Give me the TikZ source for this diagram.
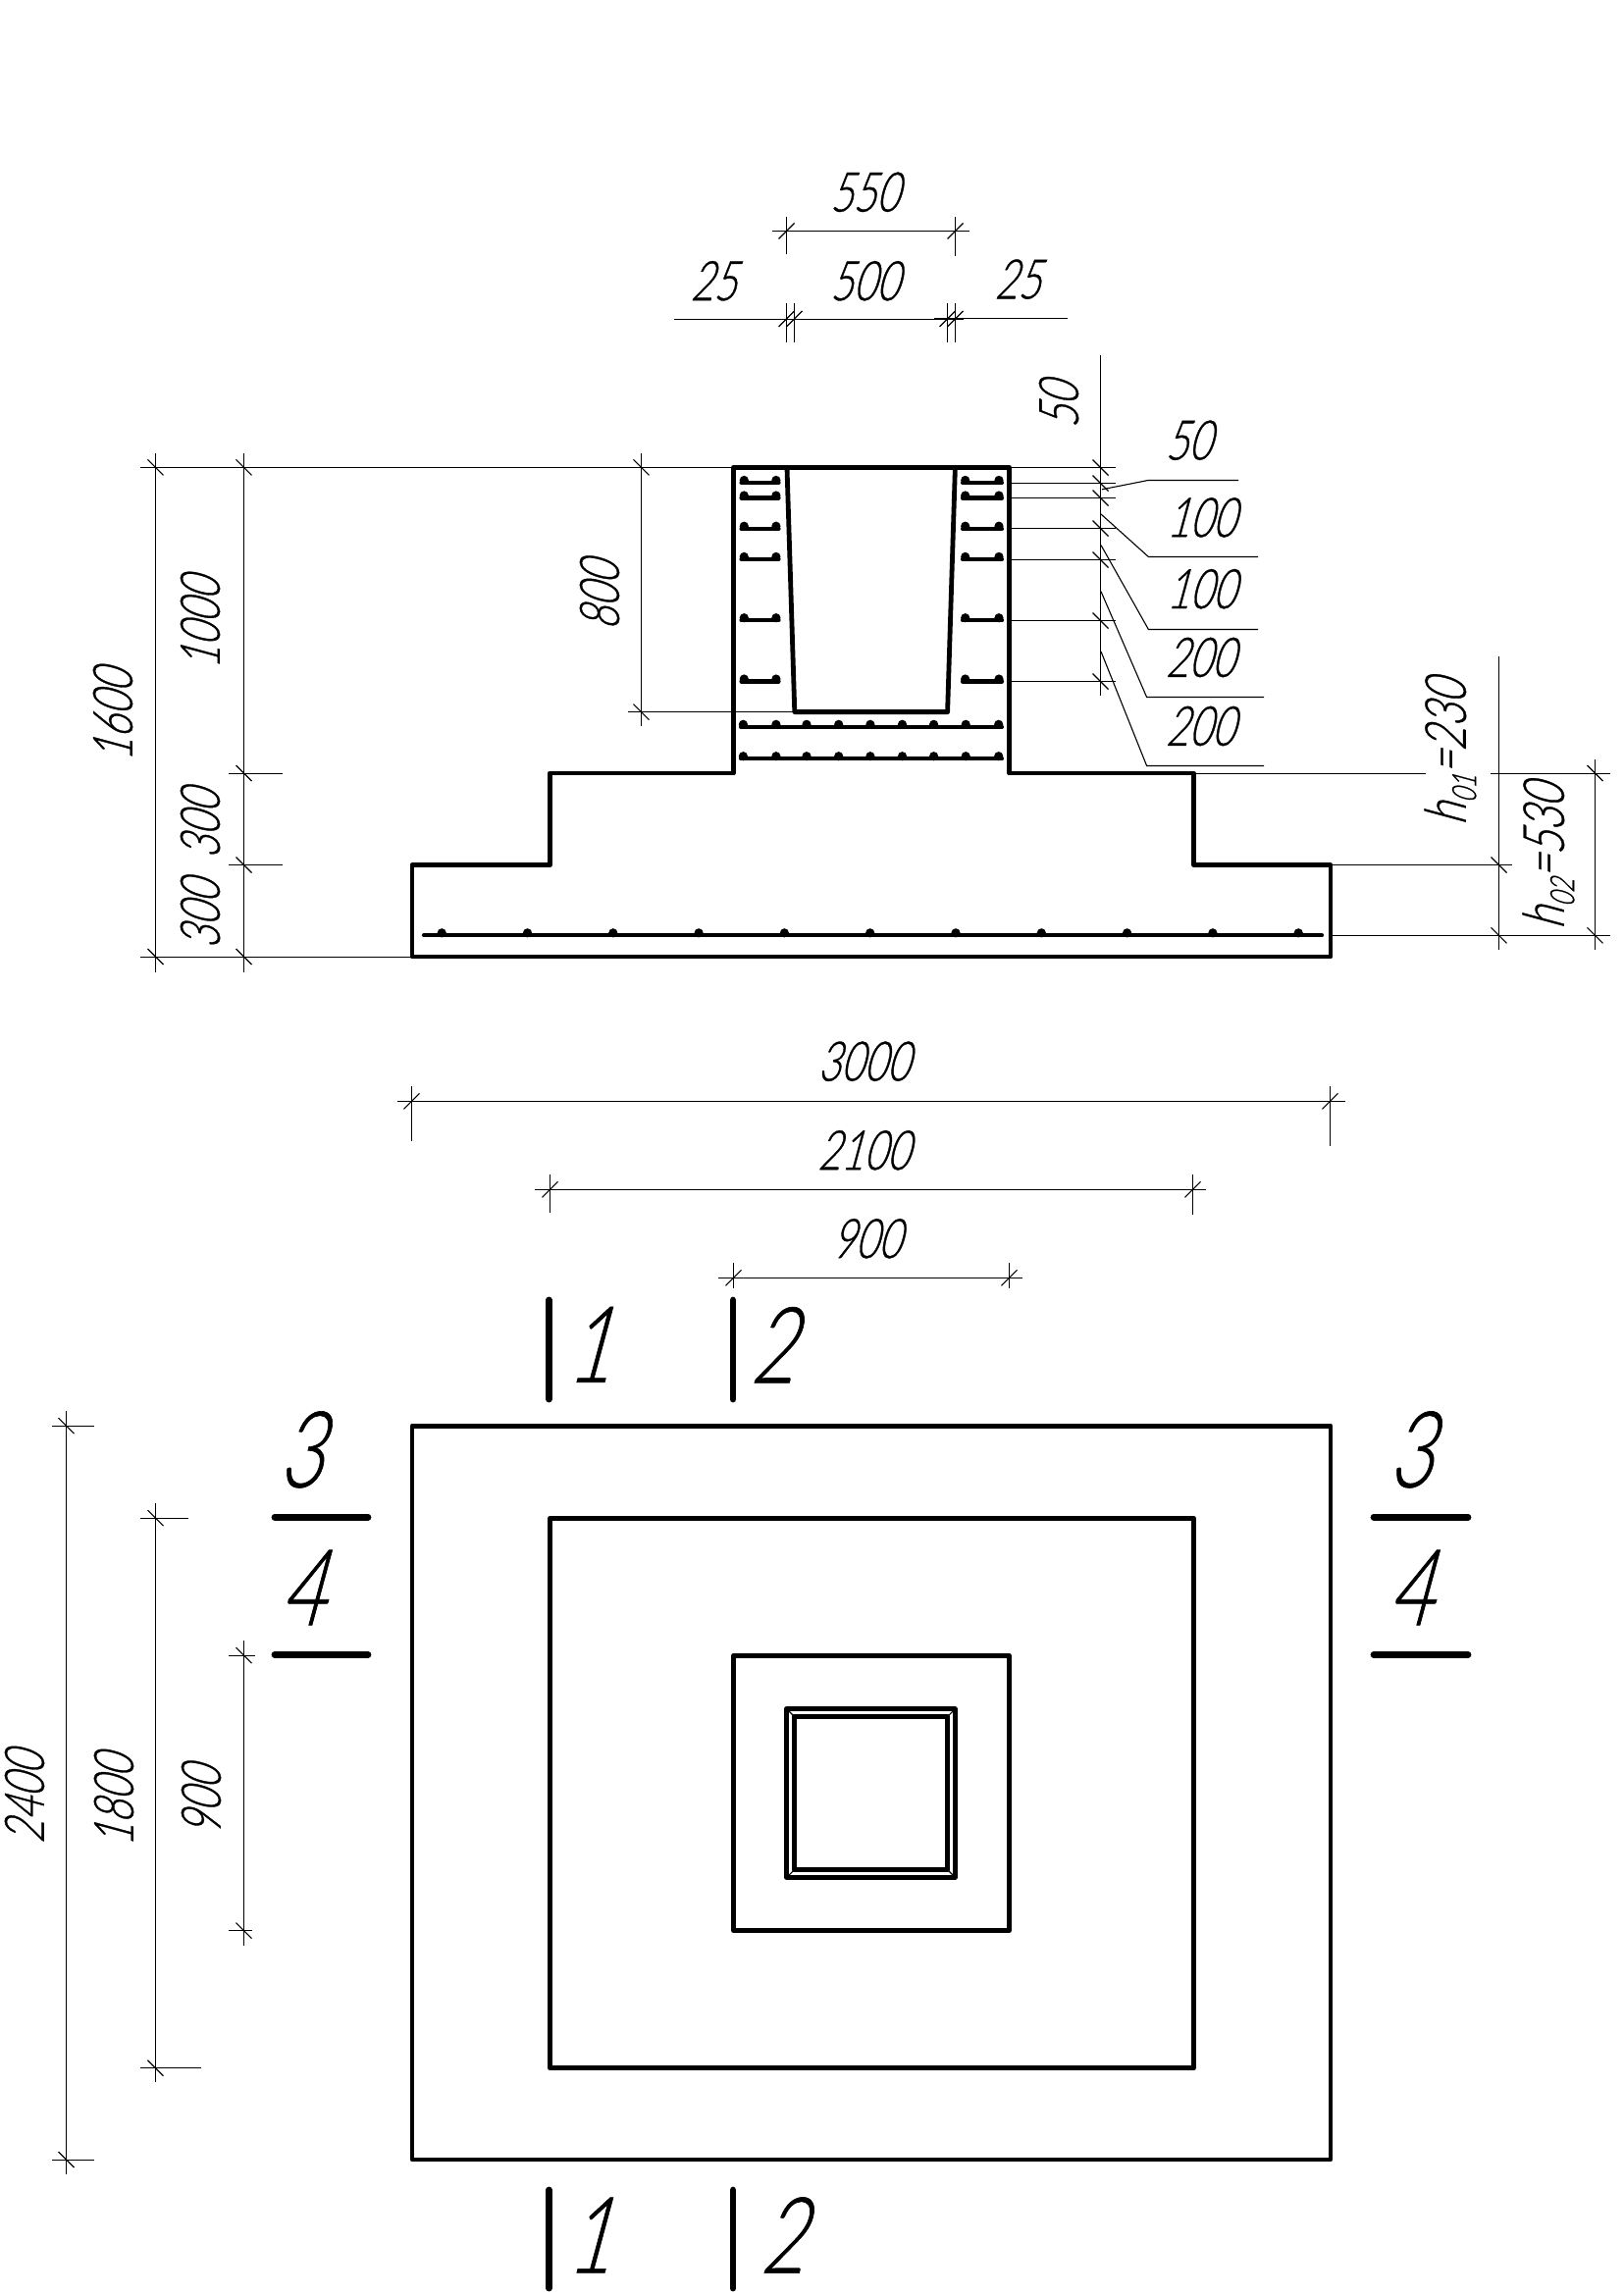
\documentclass[tikz,border=0pt]{standalone}
\usepackage{fontspec}
\newfontfamily\gost[FakeStretch=0.72,FakeSlant=0.27,FakeBold=0.6]{Lato Light}
\newcommand{\gostfont}[1]{\gost\fontsize{#1}{#1}\selectfont}
\tikzset{
  thinline/.style={line width=1.1pt,black},
  thick outline/.style={line width=4.8pt,black,line join=round,line cap=round},
  rebar/.style={line width=4.2pt,black,line cap=round},
  cutmark/.style={line width=6.8pt,black,line cap=round},
  dim/.style={font=\gostfont{56},inner sep=0pt},
  dimv/.style={dim,rotate=90},
  big/.style={font=\gostfont{108},inner sep=0pt},
  hlabel/.style={font=\gostfont{58},inner sep=0pt,rotate=90},
}
% tick marks
\newcommand{\tb}[2]{\draw[thinline] (#1-8,#2-8) -- (#1+8,#2+8);}
\newcommand{\tf}[2]{\draw[thinline] (#1-8,#2+8) -- (#1+8,#2-8);}
\newcommand{\bardot}[2]{\fill (#1,#2-2.5) circle (4.6);}
\begin{document}
\begin{tikzpicture}[x=1pt,y=-1pt]
\useasboundingbox (0,0) rectangle (1654,2339);
\fill[white] (0,0) rectangle (1654,2339);
% ---------- elevation ----------
\draw[thick outline] (420,975) -- (1356,975) -- (1356,881.5) -- (1216.5,881.5) -- (1216.5,788) -- (1028.5,788) -- (1028.5,476.3) -- (747.5,476.3) -- (747.5,788) -- (560.3,788) -- (560.3,881.5) -- (420,881.5) -- cycle;
\draw[thick outline] (802,476.3) -- (809.8,725.6) -- (965.6,725.6) -- (973.4,476.3);
% column bars
\foreach \y in {491.9,507.5,538.7,569.9,632.2,694.5}{
  \draw[rebar] (755.5,\y) -- (793.5,\y);
  \bardot{758.3}{\y}\bardot{790.9}{\y}
  \draw[rebar] (981,\y) -- (1021,\y);
  \bardot{983.7}{\y}\bardot{1018}{\y}
}
\foreach \y in {740.8,773.2}{
  \draw[rebar] (755,\y) -- (1021,\y);
  \foreach \x in {757.4,790.9,822,854.7,886.9,919.5,951.6,984.2,1017.7}{\bardot{\x}{\y}}
}
\draw[rebar] (432,953.3) -- (1347,953.3);
\foreach \x in {450.2,537.5,624.8,712.1,799.4,886.7,974,1061.3,1148.6,1235.9,1323.2}{\bardot{\x}{953.3}}
% left dims
\draw[thinline] (158.5,462) -- (158.5,991);
\draw[thinline] (248.5,462) -- (248.5,991);
\draw[thinline] (653.5,462) -- (653.5,740.4);
\draw[thinline] (142.9,476.5) -- (747.5,476.5);
\draw[thinline] (142.9,975.5) -- (420,975.5);
\draw[thinline] (233,788.5) -- (288,788.5);
\draw[thinline] (233,881.5) -- (288,881.5);
\draw[thinline] (639.6,725.5) -- (809.8,725.5);
\tb{158.5}{476.3}\tb{248.5}{476.3}\tb{653.5}{476.3}\tb{158.5}{975}\tb{248.5}{975}\tb{248.5}{788}\tb{248.5}{881.5}\tb{653.5}{725.6}
\node[dimv] (t1600) at (115,729) {1600};
\node[dimv] (t1000) at (204,635) {1000};
\node[dimv] (t300a) at (204,840) {300};
\node[dimv] (t300b) at (204,932) {300};
\node[dimv] (t800) at (611,607) {800};
% top dims
\draw[thinline] (787.3,235.5) -- (988.2,235.5);
\draw[thinline] (801.5,221) -- (801.5,259);
\draw[thinline] (973.5,221) -- (973.5,261);
\tf{801.5}{235.5}\tf{973.5}{235.5}
\draw[thinline] (686.9,325.5) -- (981.5,325.5);
\draw[thinline] (952,324.5) -- (1087.8,324.5);
\foreach \x in {801.5,809.5,965.5,973.5}{
  \draw[thinline] (\x,309.4) -- (\x,348.5);
  \tf{\x}{325}
}
\node[dim] (t550) at (881,195.8) {550};
\node[dim] (t25a) at (727,286.3) {25};
\node[dim] (t500) at (881,286.3) {500};
\node[dim] (t25b) at (1037,284.6) {25};
% right leader
\draw[thinline] (1121.5,362) -- (1121.5,709.3);
\foreach \y in {476.5,492.5,507.5,538.5,570.5,632.5,694.5}{
  \draw[thinline] (1028.3,\y) -- (1137,\y);
  \tb{1121.5}{\y}
}
\draw[thinline] (1123,498.8) -- (1170,489.5) -- (1262,489.5);
\draw[thinline] (1122,524) -- (1170.4,567.5) -- (1282,567.5);
\draw[thinline] (1122,555.6) -- (1170.4,641.5) -- (1282,641.5);
\draw[thinline] (1122,602.8) -- (1168.6,710.5) -- (1288,710.5);
\draw[thinline] (1122,664) -- (1168.6,780.5) -- (1288,780.5);
\node[dimv] (t50v) at (1079,413) {50};
\node[dim] (t50) at (1211,448.7) {50};
\node[dim] (t100a) at (1224,527.4) {100};
\node[dim] (t100b) at (1224,600.2) {100};
\node[dim] (t200a) at (1223,670) {200};
\node[dim] (t200b) at (1223,740) {200};
% h dims
\draw[thinline] (1215.5,788.5) -- (1453,788.5);
\draw[thinline] (1518.8,788.5) -- (1640.8,788.5);
\draw[thinline] (1355,881.5) -- (1540.8,881.5);
\draw[thinline] (1355,953.5) -- (1640.8,953.5);
\draw[thinline] (1527.5,669.4) -- (1527.5,968.3);
\draw[thinline] (1625.5,774) -- (1625.5,968.3);
\tb{1527.5}{881.5}\tb{1527.5}{953.3}\tb{1625.5}{788}\tb{1625.5}{953.3}
\node[hlabel] (h01) at (1478,767) {h\raisebox{-0.18em}{\gostfont{34}01}=230};
\node[hlabel] (h02) at (1578,873) {h\raisebox{-0.18em}{\gostfont{34}02}=530};
% ---------- width dims ----------
\draw[thinline] (405,1122.5) -- (1370.6,1122.5);
\draw[thinline] (419.5,1107.3) -- (419.5,1162.7);
\draw[thinline] (1355.5,1107.3) -- (1355.5,1167.7);
\tf{419.5}{1122.3}\tf{1355.5}{1122.3}
\draw[thinline] (544.8,1212.5) -- (1229,1212.5);
\draw[thinline] (560.5,1197.3) -- (560.5,1235.7);
\draw[thinline] (1215.5,1197.3) -- (1215.5,1237.7);
\tf{560.5}{1212.3}\tf{1215.5}{1212.3}
\draw[thinline] (732.3,1302.5) -- (1042,1302.5);
\draw[thinline] (747.5,1287.3) -- (747.5,1313.3);
\draw[thinline] (1028.5,1287.3) -- (1028.5,1313.3);
\tf{747.5}{1302.3}\tf{1028.5}{1302.3}
\node[dim] (t3000) at (880,1081.7) {3000};
\node[dim] (t2100) at (880,1172.3) {2100};
\node[dim] (t900) at (883,1262.3) {900};
% ---------- plan ----------
\draw[thick outline] (420,1453.2) rectangle (1356,2201);
\draw[thick outline] (560.3,1547.2) rectangle (1216.5,2107.7);
\draw[thick outline] (747.5,1687.2) rectangle (1028.5,1967.6);
\draw[thick outline] (801.7,1741.7) rectangle (973.3,1913.3);
\draw[thick outline] (809.3,1749.3) rectangle (965.7,1905.7);
\draw[thinline] (801.7,1741.7) -- (809.3,1749.3) (973.3,1741.7) -- (965.7,1749.3) (801.7,1913.3) -- (809.3,1905.7) (973.3,1913.3) -- (965.7,1905.7);
% plan dims
\draw[thinline] (67.5,1438) -- (67.5,2216);
\draw[thinline] (53.4,1453.5) -- (96,1453.5);
\draw[thinline] (53.4,2201.5) -- (96,2201.5);
\tb{67.5}{1453.2}\tb{67.5}{2201}
\draw[thinline] (158.5,1531.7) -- (158.5,2122);
\draw[thinline] (143,1547.5) -- (192,1547.5);
\draw[thinline] (143,2107.5) -- (205,2107.5);
\tb{158.5}{1547.2}\tb{158.5}{2107.7}
\draw[thinline] (248.5,1671.8) -- (248.5,1982.5);
\draw[thinline] (233,1687.5) -- (260,1687.5);
\draw[thinline] (233,1967.5) -- (257,1967.5);
\tb{248.5}{1687.2}\tb{248.5}{1967.6}
\node[dimv] (t2400) at (25,1832) {2400};
\node[dimv] (t1800) at (116,1835) {1800};
\node[dimv] (t900b) at (205,1835) {900};
% section marks
\draw[cutmark] (559.4,1325) -- (559.4,1426);
\draw[cutmark] (747,1325) -- (747,1426);
\node[big] (s1a) at (600,1370.3) {1};
\node[big] (s2a) at (787,1370.7) {2};
\draw[cutmark] (559.4,2232) -- (559.4,2332);
\draw[cutmark] (747,2232) -- (747,2332);
\node[big] (s1b) at (600,2278) {1};
\node[big] (s2b) at (797,2278) {2};
\draw[cutmark] (280,1546.2) -- (375,1546.2);
\draw[cutmark] (280,1686.3) -- (375,1686.3);
\node[big] (s3a) at (306,1477.4) {3};
\node[big] (s4a) at (308,1618) {4};
\draw[cutmark] (1400,1546.2) -- (1496,1546.2);
\draw[cutmark] (1400,1686.3) -- (1496,1686.3);
\node[big] (s3b) at (1437,1477.4) {3};
\node[big] (s4b) at (1437,1618) {4};
\end{tikzpicture}
\end{document}
